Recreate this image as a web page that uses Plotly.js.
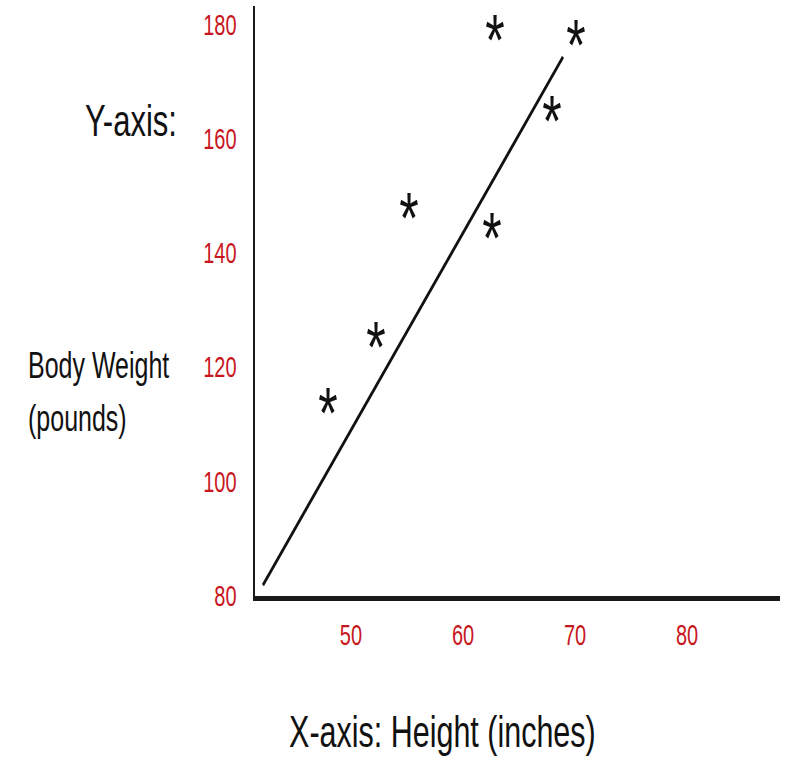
<!DOCTYPE html>
<html>
<head>
<meta charset="utf-8">
<script src="https://cdn.plot.ly/plotly-3.0.1.min.js"></script>
<style>
html,body{margin:0;padding:0;background:#fff;overflow:hidden;width:789px;height:761px;}
#chart{width:789px;height:525px;transform:scaleY(1.45);transform-origin:0 0;}
</style>
</head>
<body>
<div id="chart"></div>
<script>
// Data
const heights = [47.95, 52.23, 55.18, 62.59, 62.86, 67.95, 70.09];
const weights = [113.9, 125.5, 148.1, 144.6, 179.2, 165.0, 178.3];
const fitX = [42.14, 68.93];
const fitY = [81.9, 174.3];
const xTicks = [50, 60, 70, 80];
const yTicks = [80, 100, 120, 140, 160, 180];

const FONT = "'Liberation Sans', Arial, sans-serif";
const RED = '#c8161e';

const traces = [
  {
    x: fitX, y: fitY, mode: 'lines', type: 'scatter',
    line: {color: '#111', width: 2.5}, hoverinfo: 'skip', showlegend: false
  },
  {
    x: heights, y: weights, mode: 'text', type: 'scatter', cliponaxis: false,
    text: heights.map(() => '<span style="font-size:50px">*</span>'), textposition: 'middle center',
    textfont: {family: FONT, size: 100, color: '#111'},
    showlegend: false
  }
];

const layout = {
  width: 789, height: 525,
  margin: {l: 255, r: 9, t: 4, b: 114},
  paper_bgcolor: '#fff', plot_bgcolor: '#fff',
  showlegend: false,
  xaxis: {
    range: [41.43, 88.3], tickvals: xTicks, ticktext: xTicks.map(String),
    showgrid: false, zeroline: false, showline: true, linecolor: '#1a1a1a', linewidth: 3.5,
    ticks: '', ticklabelstandoff: 6,
    tickfont: {family: FONT, size: 20, color: RED}
  },
  yaxis: {
    range: [80, 183.25], tickvals: yTicks, ticktext: yTicks.map(String),
    showgrid: false, zeroline: false, showline: true, linecolor: '#1a1a1a', linewidth: 2.5,
    ticks: '', ticklabelstandoff: 12,
    tickfont: {family: FONT, size: 20, color: RED}
  },
  annotations: [
    {text: 'Y-axis:', xref: 'paper', yref: 'paper', x: -0.2362, y: 0.8048,
     xanchor: 'center', yanchor: 'middle', showarrow: false,
     font: {family: FONT, size: 31, color: '#111'}},
    {text: 'Body Weight', xref: 'paper', yref: 'paper', x: -0.4362, y: 0.3897,
     xanchor: 'left', yanchor: 'middle', showarrow: false,
     font: {family: FONT, size: 25, color: '#111'}},
    {text: '(pounds)', xref: 'paper', yref: 'paper', x: -0.4362, y: 0.3015,
     xanchor: 'left', yanchor: 'middle', showarrow: false,
     font: {family: FONT, size: 25, color: '#111'}},
    {text: 'X-axis: Height (inches)', xref: 'paper', yref: 'paper', x: 0.3562, y: -0.2300,
     xanchor: 'center', yanchor: 'middle', showarrow: false,
     font: {family: FONT, size: 30.5, color: '#111'}}
  ]
};

Plotly.newPlot('chart', traces, layout, {displayModeBar: false, staticPlot: true});
</script>
</body>
</html>
